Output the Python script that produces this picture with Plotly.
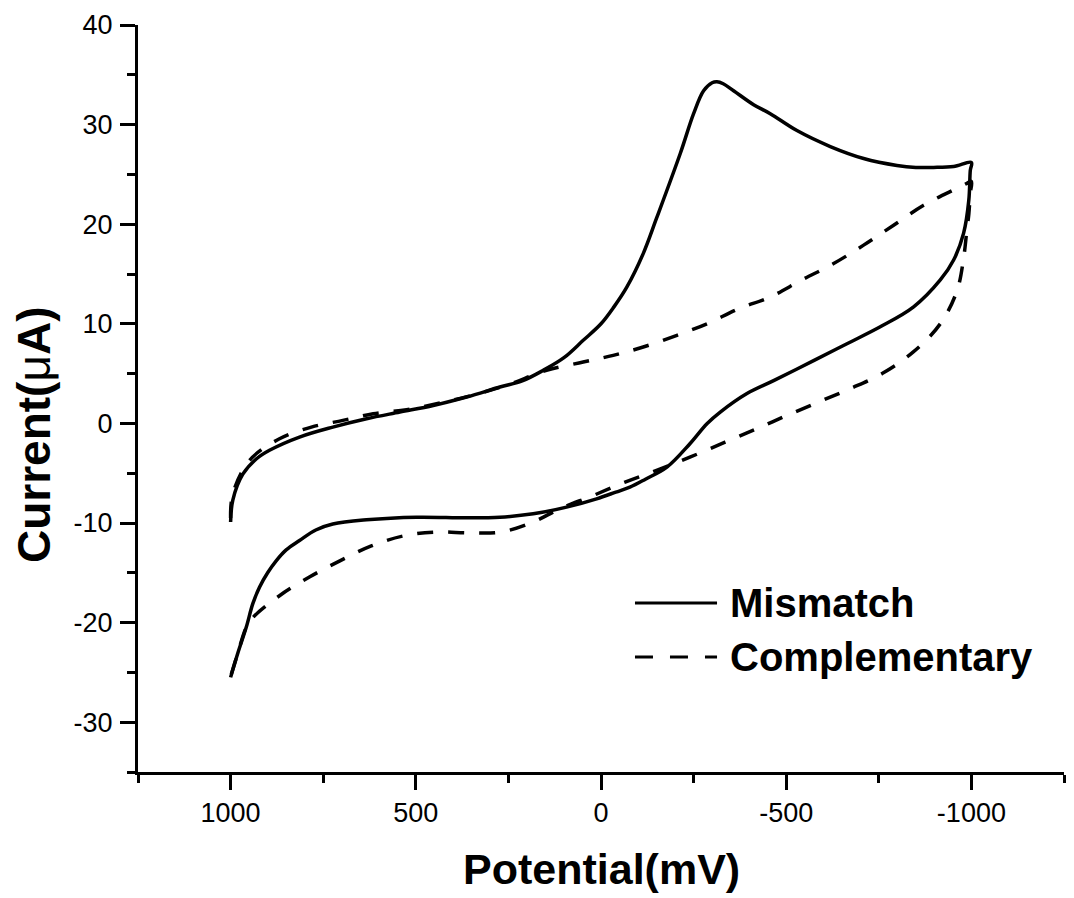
import plotly.graph_objects as go

# ---- data ----
mis_potential = [1000, 994, 967, 930, 895, 814, 724, 633, 543, 453, 363, 273, 211, 156, 100, 48, 0, -35, -70,
                 -114, -150, -214, -250, -277, -300, -313, -330, -358, -412, -457, -529, -619, -709,
                 -799, -850, -898, -952, -1000,
                 -997, -993, -979, -952, -916, -844, -754, -664, -574, -466, -394, -322, -286, -240, -178,
                 -120, -78, -40, 12, 93, 183, 273, 363, 498, 633, 724, 770, 814, 850, 877, 900, 922, 940, 958, 980, 1000]
mis_current = [-9.9, -7.7, -5.1, -3.55, -2.7, -1.37, -0.37, 0.47, 1.14, 1.8, 2.65, 3.65, 4.3, 5.33, 6.6, 8.34, 10.0, 11.7, 13.7,
               17.05, 20.6, 27.1, 31.1, 33.4, 34.2, 34.3, 34.1, 33.4, 32.0, 31.1, 29.4, 27.8, 26.6,
               25.9, 25.7, 25.7, 25.8, 26.2,
               25.4, 22.4, 19.1, 16.4, 14.4, 11.7, 9.7, 8.0, 6.3, 4.3, 3.0, 1.14, -0.03, -2.04, -4.39,
               -5.6, -6.4, -6.9, -7.57, -8.41, -9.08, -9.42, -9.48, -9.42, -9.68, -10.1, -10.7, -11.76, -12.7, -13.8, -15.0, -16.45, -18.1, -20.5, -23.0, -25.5]

comp_potential = [1000, 994, 949, 868, 782, 697, 615, 525, 435, 350, 250, 147, 48, -33, -114, -205, -286, -371,
                  -457, -542, -628, -709, -790, -871, -961, -988, -1000,
                  -997, -993, -988, -979, -961, -916, -844, -759, -673, -587, -502, -421, -335, -240, -150,
                  -65, 21, 111, 183, 268, 354, 444, 534, 620, 705, 786, 868, 940, 958, 980, 1000]
comp_current = [-9.5, -7.07, -3.72, -1.54, -0.37, 0.3, 0.97, 1.37, 2.04, 2.8, 3.9, 5.33, 6.16, 6.83, 7.67, 8.84, 10.0, 11.5,
                12.7, 14.4, 16.05, 17.9, 19.9, 21.9, 23.6, 24.1, 24.3,
                23.1, 21.0, 19.5, 16.6, 13.3, 10.0, 7.2, 5.0, 3.49, 2.14, 0.8, -0.53, -1.88, -3.39, -4.72,
                -5.9, -7.24, -8.57, -9.9, -10.9, -11.0, -10.9, -11.3, -12.3, -13.8, -15.4, -17.3, -19.5, -20.5, -23.0, -25.4]

x_ticks = [1000, 500, 0, -500, -1000]
y_ticks = [-30, -20, -10, 0, 10, 20, 30, 40]
series_names = ["Mismatch", "Complementary"]

FONT = "Liberation Sans, Arial, sans-serif"

fig = go.Figure()
fig.add_trace(go.Scatter(x=mis_potential, y=mis_current, mode="lines", name=series_names[0],
                         line=dict(color="black", width=3.5, shape="spline", smoothing=1.0)))
fig.add_trace(go.Scatter(x=comp_potential, y=comp_current, mode="lines", name=series_names[1],
                         line=dict(color="black", width=3.5, dash="16px,15px", shape="spline", smoothing=1.0)))

axis_common = dict(showgrid=False, zeroline=False, showline=True, linecolor="black", linewidth=3,
                   ticks="outside", ticklen=15, tickwidth=3, tickcolor="black",
                   tickfont=dict(family=FONT, size=27, color="black"), mirror=False)

fig.update_xaxes(range=[1250, -1250], tickvals=x_ticks, ticktext=[str(v) for v in x_ticks],
                 minor=dict(ticks="outside", ticklen=8, tickwidth=3, tickcolor="black", dtick=250, tick0=0),
                 **axis_common)
fig.update_yaxes(range=[-35, 40], tickvals=y_ticks, ticktext=[str(v) for v in y_ticks],
                 minor=dict(ticks="outside", ticklen=8, tickwidth=3, tickcolor="black", dtick=5, tick0=0),
                 ticklabelstandoff=2, **axis_common)

# legend drawn as layout decorations
fig.add_shape(type="line", xref="paper", yref="paper", x0=0.5367, x1=0.6253, y0=0.2262, y1=0.2262,
              line=dict(color="black", width=3))
fig.add_shape(type="line", xref="paper", yref="paper", x0=0.5367, x1=0.6253, y0=0.1539, y1=0.1539,
              line=dict(color="black", width=3, dash="18px,17px"))
fig.add_annotation(xref="paper", yref="paper", x=0.6371, y=0.2262, xanchor="left", yanchor="middle",
                   text="<b>%s</b>" % series_names[0], showarrow=False,
                   font=dict(family=FONT, size=40, color="black"))
fig.add_annotation(xref="paper", yref="paper", x=0.6371, y=0.1539, xanchor="left", yanchor="middle",
                   text="<b>%s</b>" % series_names[1], showarrow=False,
                   font=dict(family=FONT, size=40, color="black"))

# axis titles
fig.add_annotation(xref="paper", yref="paper", x=0.5, y=-0.1299, xanchor="center", yanchor="middle",
                   text="<b>Potential(mV)</b>", showarrow=False,
                   font=dict(family=FONT, size=43, color="black"))
fig.add_annotation(xref="paper", yref="paper", x=-0.1123, y=0.4511, xanchor="center", yanchor="middle",
                   textangle=-90, text="<b>Current(</b><span style='font-weight:normal'>μ</span><b>A)</b>",
                   showarrow=False, font=dict(family=FONT, size=46, color="black"))

fig.update_layout(width=1074, height=898, autosize=False, showlegend=False,
                  margin=dict(l=138, r=10, t=25, b=126, pad=0),
                  plot_bgcolor="white", paper_bgcolor="white")

fig.write_html("out.html")
